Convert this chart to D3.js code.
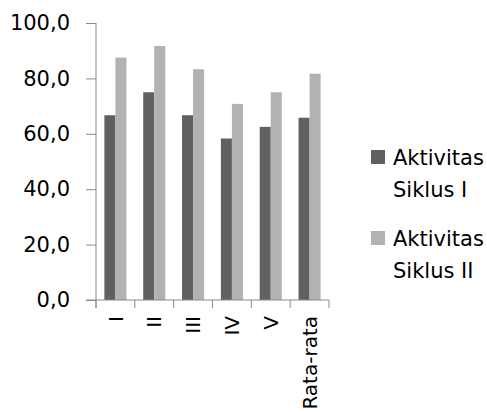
<!DOCTYPE html>
<html><head><meta charset="utf-8">
<script src="https://cdn.jsdelivr.net/npm/d3@7/dist/d3.min.js"></script>
<style>
html,body{margin:0;padding:0;background:#fff;}
svg text{font-family:"DejaVu Sans",sans-serif;fill:#000;}
</style></head>
<body><svg id="c" width="487" height="412"></svg>
<script>
const categories = ["I","II","III","IV","V","Rata-rata"];
const seriesNames = ["Aktivitas Siklus I","Aktivitas Siklus II"];
const siklus1 = [66.7, 75.0, 66.7, 58.3, 62.5, 65.8];
const siklus2 = [87.5, 91.7, 83.3, 70.8, 75.0, 81.7];
const yTicks = [0,20,40,60,80,100];
const colors = ["#606060","#b2b2b2"];

const svg = d3.select("#c");
const axisColor = "#8a8a8a";
const FS = 21;
const mLeft = 96, mRight = 329, mTop = 23, mBottom = 300;
const y = d3.scaleLinear().domain([0,100]).range([mBottom, mTop]);
const x = d3.scaleBand().domain(categories).range([mLeft, mRight]).padding(0);
const xs = d3.scaleBand().domain([0,1]).range([0, x.bandwidth()]).paddingInner(0).paddingOuter(0.76);
const fmt = d3.formatLocale({decimal:",",thousands:".",grouping:[3],currency:["",""]}).format(".1f");

const series = [siklus1, siklus2];
series.forEach((vals, si) => {
  svg.append("g").selectAll("rect").data(vals).join("rect")
    .attr("x", (d,i) => x(categories[i]) + xs(si))
    .attr("y", d => y(d))
    .attr("width", xs.bandwidth())
    .attr("height", d => y(0) - y(d))
    .attr("fill", colors[si]);
});

// y axis
const ya = svg.append("g").attr("transform", `translate(${mLeft},0)`)
  .call(d3.axisLeft(y).tickValues(yTicks).tickFormat(fmt).tickSize(10).tickSizeOuter(0));
ya.select(".domain").remove();
ya.selectAll(".tick line").attr("stroke", axisColor);
ya.selectAll(".tick text").attr("x", -26).attr("font-size", FS).attr("font-family", "DejaVu Sans").attr("fill","#000");
svg.append("line").attr("x1", mLeft).attr("x2", mLeft).attr("y1", mTop).attr("y2", mBottom + 8).attr("stroke", axisColor);

// x axis
svg.append("line").attr("x1", mLeft - 10).attr("x2", mRight).attr("y1", mBottom).attr("y2", mBottom).attr("stroke", axisColor);
const bounds = categories.map(c => x(c)).concat([x(categories[categories.length-1]) + x.bandwidth()]);
svg.append("g").selectAll("line").data(bounds).join("line")
  .attr("x1", d => d).attr("x2", d => d).attr("y1", mBottom).attr("y2", mBottom + 8).attr("stroke", axisColor);
svg.append("g").selectAll("text").data(categories).join("text")
  .attr("transform", d => `translate(${x(d) + x.bandwidth()/2},${mBottom + 16}) rotate(-90)`)
  .attr("text-anchor", "end").attr("dy", "0.36em").attr("font-size", 20)
  .text(d => d);

// legend
const lg = svg.append("g");
const legendRows = [["Aktivitas","Siklus I"],["Aktivitas","Siklus II"]];
const legendBase = [165, 246];
legendRows.forEach((lines, i) => {
  const yy = legendBase[i];
  lg.append("rect").attr("x", 371).attr("y", yy - 15).attr("width", 14).attr("height", 14).attr("fill", colors[i]);
  lines.forEach((t, j) => {
    lg.append("text").attr("x", 393).attr("y", yy + j * 32).attr("font-size", FS).text(t);
  });
});
</script></body></html>
